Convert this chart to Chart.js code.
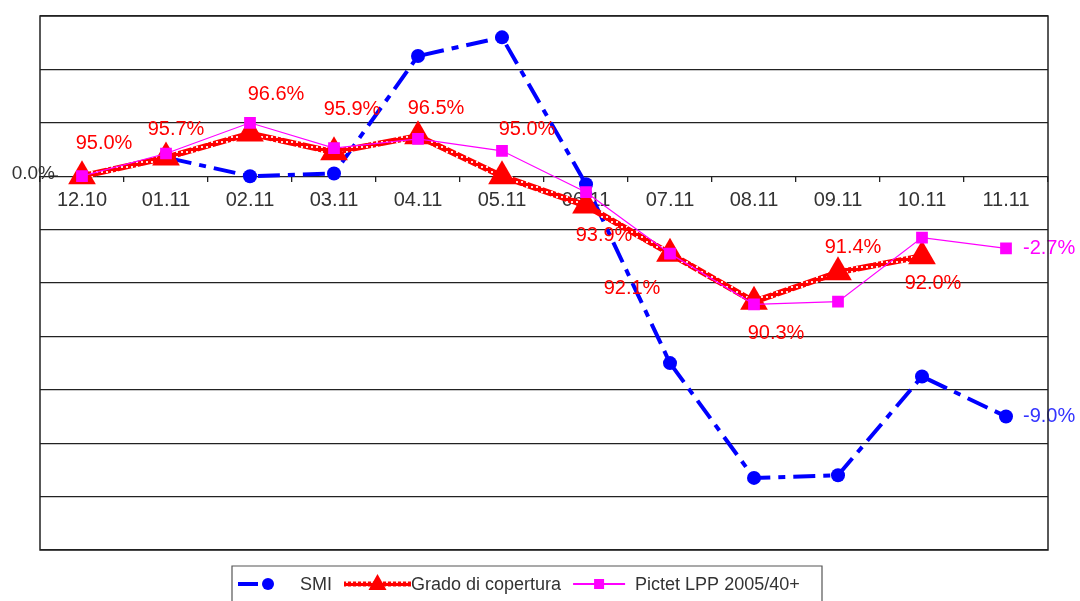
<!DOCTYPE html>
<html>
<head>
<meta charset="utf-8">
<script src="https://cdn.jsdelivr.net/npm/chart.js@4/dist/chart.umd.min.js"></script>
<style>
    body { margin: 0; background: #fff; }
    #wrap { width: 1080px; height: 601px; }
</style>
</head>
<body>
<div id="wrap"><canvas id="chart-line1" width="1080" height="601"></canvas></div>
<script>
// months
const months = ['12.10', '01.11', '02.11', '03.11', '04.11', '05.11', '06.11', '07.11', '08.11', '09.11', '10.11', '11.11'];
// performance in % since 12.10
const smi = [0.0, 0.7, 0.0, 0.1, 4.5, 5.2, -0.3, -7.0, -11.3, -11.2, -7.5, -9.0];
const pictet = [0.0, 0.85, 2.0, 1.05, 1.4, 0.95, -0.6, -2.9, -4.8, -4.7, -2.3, -2.7];
// coverage ratio in % (no value for 11.11)
const grado = [95.0, 95.7, 96.6, 95.9, 96.5, 95.0, 93.9, 92.1, 90.3, 91.4, 92.0];
const seriesNames = ['SMI', 'Grado di copertura', 'Pictet LPP 2005/40+'];
const zeroLabel = '0.0%';

// where the coverage labels sit relative to their point
const gradoLabelOffsets = [[22, -33], [10, -28], [26, -39], [18, -43], [18, -28], [25, -47],
    [18, 30], [-38, 35], [22, 32], [15, -25], [11, 27]];

const FONT = '"Liberation Sans", Arial, sans-serif';

// red line with small white links, like the excel chain line
function chainPattern() {
    let c = document.createElement('canvas');
    c.width = 5;
    c.height = 5;
    let g = c.getContext('2d');
    g.fillStyle = '#ff0000';
    g.fillRect(0, 0, 5, 5);
    g.fillStyle = '#ffe0e0';
    g.fillRect(1, 1, 2, 2);
    return g.createPattern(c, 'repeat');
}

let ctx = document.getElementById('chart-line1').getContext('2d');
const chain = chainPattern();
const smiDash = [22, 8, 7, 8];

// value labels, end labels, frame and legend
const extras = {
    id: 'extras',
    afterDatasetsDraw(chart) {
        let c = chart.ctx;
        c.save();
        c.font = '20px ' + FONT;
        c.textBaseline = 'middle';

        // coverage labels
        c.fillStyle = '#ff0000';
        c.textAlign = 'center';
        chart.getDatasetMeta(1).data.forEach(function (pt, i) {
            let off = gradoLabelOffsets[i];
            c.fillText(grado[i].toFixed(1) + '%', pt.x + off[0], pt.y + off[1]);
        });

        // last values of SMI and Pictet
        c.textAlign = 'left';
        let last = months.length - 1;
        let pSmi = chart.getDatasetMeta(0).data[last];
        let pPic = chart.getDatasetMeta(2).data[last];
        c.fillStyle = '#3333ff';
        c.fillText(smi[last].toFixed(1) + '%', pSmi.x + 17, pSmi.y);
        c.fillStyle = '#ff00ff';
        c.fillText(pictet[last].toFixed(1) + '%', pPic.x + 17, pPic.y);
        c.restore();
    },
    afterDraw(chart) {
        let c = chart.ctx;
        let a = chart.chartArea;
        c.save();
        c.strokeStyle = '#222';
        c.lineWidth = 1.5;
        c.strokeRect(a.left, a.top, a.right - a.left, a.bottom - a.top);

        // the only y label, sitting over the frame like in excel
        let y0 = chart.scales.y.getPixelForValue(0);
        c.font = '19px ' + FONT;
        c.fillStyle = '#333';
        c.textAlign = 'right';
        c.textBaseline = 'middle';
        c.fillText(zeroLabel, a.left + 15, y0 - 2);
        c.beginPath();
        c.moveTo(a.left + 10, y0);
        c.lineTo(a.left + 18, y0);
        c.stroke();

        // legend box, bottom edge is cut off by the picture
        let bx = 232, by = 566, bw = 590;
        c.strokeStyle = '#555';
        c.lineWidth = 1.2;
        c.beginPath();
        c.moveTo(bx, 602);
        c.lineTo(bx, by);
        c.lineTo(bx + bw, by);
        c.lineTo(bx + bw, 602);
        c.stroke();

        let y = 584;
        let x = 238;
        c.font = '18px ' + FONT;
        c.textAlign = 'left';
        for (let i = 0; i < seriesNames.length; i++) {
            let sw = i === 1 ? 67 : 52;
            c.beginPath();
            c.moveTo(x, y);
            c.lineTo(x + sw, y);
            if (i === 0) {
                c.strokeStyle = '#0000ff';
                c.lineWidth = 4;
                c.setLineDash([20, 8, 6, 20]);
            } else if (i === 1) {
                c.strokeStyle = chain;
                c.lineWidth = 5;
                c.setLineDash([]);
            } else {
                c.strokeStyle = '#ff00ff';
                c.lineWidth = 2;
                c.setLineDash([]);
            }
            c.stroke();
            c.setLineDash([]);
            let mx = x + sw / 2;
            if (i === 0) {
                c.fillStyle = '#0000ff';
                c.beginPath();
                c.arc(mx + 4, y, 6, 0, Math.PI * 2);
                c.fill();
            } else if (i === 1) {
                c.fillStyle = '#ff0000';
                c.beginPath();
                c.moveTo(mx, y - 10);
                c.lineTo(mx + 9, y + 6);
                c.lineTo(mx - 9, y + 6);
                c.closePath();
                c.fill();
            } else {
                c.fillStyle = '#ff00ff';
                c.fillRect(mx - 5, y - 5, 10, 10);
            }
            let tx = x + sw + (i === 1 ? 0 : 10);
            c.fillStyle = '#333';
            c.fillText(seriesNames[i], tx, y + 1);
            x = tx + c.measureText(seriesNames[i]).width + 12;
        }
        c.restore();
    }
};

let graph = new Chart(ctx, {
    type: 'line',
    data: {
        labels: months,
        datasets: [{
            label: seriesNames[0],
            data: smi,
            yAxisID: 'y',
            borderColor: '#0000ff',
            backgroundColor: '#0000ff',
            borderWidth: 4,
            borderDash: smiDash,
            pointStyle: 'circle',
            pointRadius: 7,
            pointBorderWidth: 0,
            order: 2
        }, {
            label: seriesNames[1],
            data: grado,
            yAxisID: 'y2',
            borderColor: chain,
            backgroundColor: '#ff0000',
            borderWidth: 6,
            pointStyle: 'triangle',
            pointRadius: 16,
            pointBorderWidth: 0,
            order: 1
        }, {
            label: seriesNames[2],
            data: pictet,
            yAxisID: 'y',
            borderColor: '#ff00ff',
            backgroundColor: '#ff00ff',
            borderWidth: 1.2,
            pointStyle: 'rect',
            pointRadius: 8.3,
            pointBorderWidth: 0,
            order: 0
        }]
    },
    options: {
        responsive: false,
        animation: false,
        events: [],
        layout: {
            padding: {top: 8, right: 32, bottom: 51, left: 0}
        },
        plugins: {
            legend: {display: false},
            tooltip: {enabled: false}
        },
        scales: {
            x: {
                position: {y: 0},
                offset: true,
                grid: {
                    drawOnChartArea: false,
                    offset: true,
                    tickLength: 6,
                    color: '#222',
                    lineWidth: 1.3
                },
                border: {display: false},
                ticks: {
                    color: '#333',
                    font: {family: FONT, size: 20},
                    padding: 6,
                    maxRotation: 0
                }
            },
            y: {
                min: -14,
                max: 6,
                afterFit: function (axis) { axis.width = 40; },
                grid: {
                    color: '#222',
                    lineWidth: 1.3,
                    drawTicks: false
                },
                border: {display: false},
                ticks: {
                    stepSize: 2,
                    display: false
                }
            },
            // coverage ratio, aligned so that 95.0% sits on the zero line
            y2: {
                display: false,
                min: 81,
                max: 101
            }
        }
    },
    plugins: [extras]
});
</script>
</body>
</html>
